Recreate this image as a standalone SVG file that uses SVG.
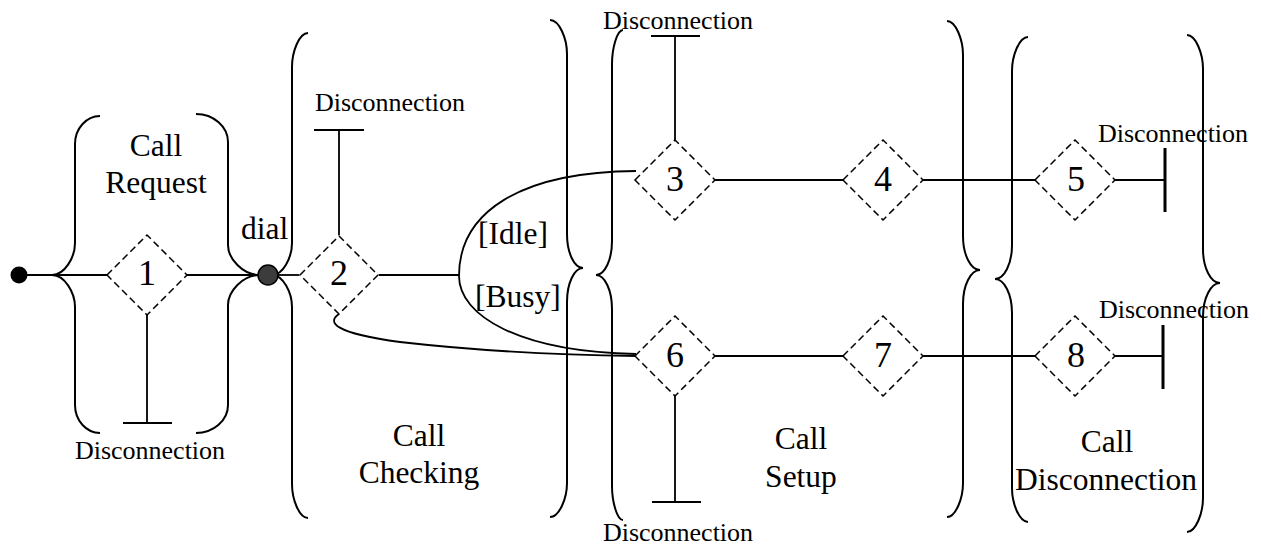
<svg xmlns="http://www.w3.org/2000/svg" width="1261" height="546" viewBox="0 0 1261 546">
  <style>
    .brace { fill: none; stroke: #000; stroke-width: 2; }
    .line { fill: none; stroke: #000; stroke-width: 1.8; }
    .bar { fill: none; stroke: #000; stroke-width: 3; }
    .state { fill: #fff; stroke: #000; stroke-width: 1.5; stroke-dasharray: 7 4; }
    .num { font-family: "Liberation Serif", "Times New Roman", serif; font-size: 36px; text-anchor: middle; fill: #000; }
    .label { font-family: "Liberation Serif", "Times New Roman", serif; font-size: 31.5px; text-anchor: middle; fill: #000; }
    .guard { font-family: "Liberation Serif", "Times New Roman", serif; font-size: 31.5px; fill: #000; }
    .disc { font-family: "Liberation Serif", "Times New Roman", serif; font-size: 26px; text-anchor: middle; fill: #000; }
  </style>

  <!-- phase braces -->
  <g id="phase-request">
    <path class="brace" d="M100,116 C86.25,116 75,128.6 75,144 L75,243 C75,257.4 64.65,275 52,275 C64.65,275 75,292.6 75,307 L75,405 C75,420.4 86.25,433 100,433"/>
    <path class="brace" d="M196,114 C213.6,114 228,126.6 228,142 L228,245 C228,258.5 242.4,275 260,275 C242.4,275 228,291.5 228,305 L228,405 C228,420.4 213.6,433 196,433"/>
    <text class="label" x="156" y="156">Call</text>
    <text class="label" x="156" y="193">Request</text>
  </g>
  <g id="phase-checking">
    <path class="brace" d="M308,33 C299.2,33 292,51.7 292,67 L292,243 C292,257.4 283,275 272,275 C283,275 292,292.6 292,307 L292,484 C292,499.3 299.2,518 308,518"/>
    <path class="brace" d="M550,20 C559.35,20 567,38.7 567,54 L567,234 C567,252.7 574.2,268 583,268 C574.2,268 567,283.3 567,302 L567,483 C567,498.3 559.35,517 550,517"/>
    <text class="label" x="419" y="446">Call</text>
    <text class="label" x="419" y="483">Checking</text>
  </g>
  <g id="phase-setup">
    <path class="brace" d="M623,30 C616.95,30 612,48.7 612,64 L612,241 C612,259.7 604.8,275 596,275 C604.8,275 612,290.3 612,309 L612,486 C612,501.3 616.95,520 623,520"/>
    <path class="brace" d="M947,21 C955.8,21 963,39.7 963,55 L963,236 C963,254.7 970.65,270 980,270 C970.65,270 963,285.3 963,304 L963,483 C963,498.3 955.8,517 947,517"/>
    <text class="label" x="801" y="449">Call</text>
    <text class="label" x="801" y="487">Setup</text>
  </g>
  <g id="phase-disconnection">
    <path class="brace" d="M1028,37 C1019.2,37 1012,55.7 1012,71 L1012,245 C1012,263.7 1004.35,279 995,279 C1004.35,279 1012,294.3 1012,313 L1012,488 C1012,503.3 1019.2,522 1028,522"/>
    <path class="brace" d="M1187,35 C1195.8,35 1203,53.7 1203,69 L1203,249 C1203,267.7 1210.65,283 1220,283 C1210.65,283 1203,298.3 1203,317 L1203,498 C1203,513.3 1195.8,532 1187,532"/>
    <text class="label" x="1107" y="452">Call</text>
    <text class="label" x="1106" y="490">Disconnection</text>
  </g>

  <!-- transitions -->
  <g id="connectors">
    <path class="line" d="M19,275 H107"/>
    <path class="line" d="M187,275 H268"/>
    <path class="line" d="M268,275 H299"/>
    <path class="line" d="M379,275 H459"/>
    <path class="line" d="M636,171 C520,172 459,212 459,276 C459,316 520,352 636,354"/>
    <path class="line" d="M339,314 C327,322 333,333 400,342 C470,350 560,355 636,356"/>
    <path class="line" d="M715,180 H843"/>
    <path class="line" d="M923,180 H1035"/>
    <path class="line" d="M715,356 H843"/>
    <path class="line" d="M923,356 H1035"/>
    <path class="line" d="M1115,180 H1165"/>
    <path class="line" d="M1115,356 H1163"/>
    <!-- disconnection terminators -->
    <path class="line" d="M147,315 V423 M123,423 H172"/>
    <path class="line" d="M339,235 V130 M314,130 H364"/>
    <path class="line" d="M675,140 V36 M651,36 H700"/>
    <path class="line" d="M675,396 V502 M652,502 H701"/>
    <path class="bar" d="M1165,148 V212"/>
    <path class="bar" d="M1163,325 V389"/>
  </g>

  <!-- pseudo states -->
  <g id="start">
    <circle cx="19" cy="275" r="8.5" fill="#000"/>
  </g>
  <g id="dial-junction">
    <circle cx="268" cy="275" r="10" fill="#3c3c3c" stroke="#000" stroke-width="1.5"/>
    <text class="guard" x="241" y="239">dial</text>
  </g>

  <!-- states -->
  <g id="s1">
    <polygon class="state" points="107,275 147,235 187,275 147,315"/>
    <text class="num" x="147" y="285">1</text>
    <text class="disc" x="150" y="459">Disconnection</text>
  </g>
  <g id="s2">
    <polygon class="state" points="300,275 339,236 378,275 339,314"/>
    <text class="num" x="339" y="285">2</text>
    <text class="disc" x="390" y="111">Disconnection</text>
  </g>
  <g id="guards">
    <text class="guard" x="478" y="244">[Idle]</text>
    <text class="guard" x="475" y="307">[Busy]</text>
  </g>
  <g id="s3">
    <polygon class="state" points="635,180 675,140 715,180 675,220"/>
    <text class="num" x="675" y="191">3</text>
    <text class="disc" x="678" y="29">Disconnection</text>
  </g>
  <g id="s4">
    <polygon class="state" points="843,180 883,140 923,180 883,220"/>
    <text class="num" x="883" y="191">4</text>
  </g>
  <g id="s5">
    <polygon class="state" points="1035,180 1075,140 1115,180 1075,220"/>
    <text class="num" x="1076" y="191">5</text>
    <text class="disc" x="1173" y="142">Disconnection</text>
  </g>
  <g id="s6">
    <polygon class="state" points="635,356 675,316 715,356 675,396"/>
    <text class="num" x="675" y="367">6</text>
    <text class="disc" x="678" y="541">Disconnection</text>
  </g>
  <g id="s7">
    <polygon class="state" points="843,356 883,316 923,356 883,396"/>
    <text class="num" x="883" y="367">7</text>
  </g>
  <g id="s8">
    <polygon class="state" points="1035,356 1075,316 1115,356 1075,396"/>
    <text class="num" x="1076" y="367">8</text>
    <text class="disc" x="1174" y="318">Disconnection</text>
  </g>
</svg>
